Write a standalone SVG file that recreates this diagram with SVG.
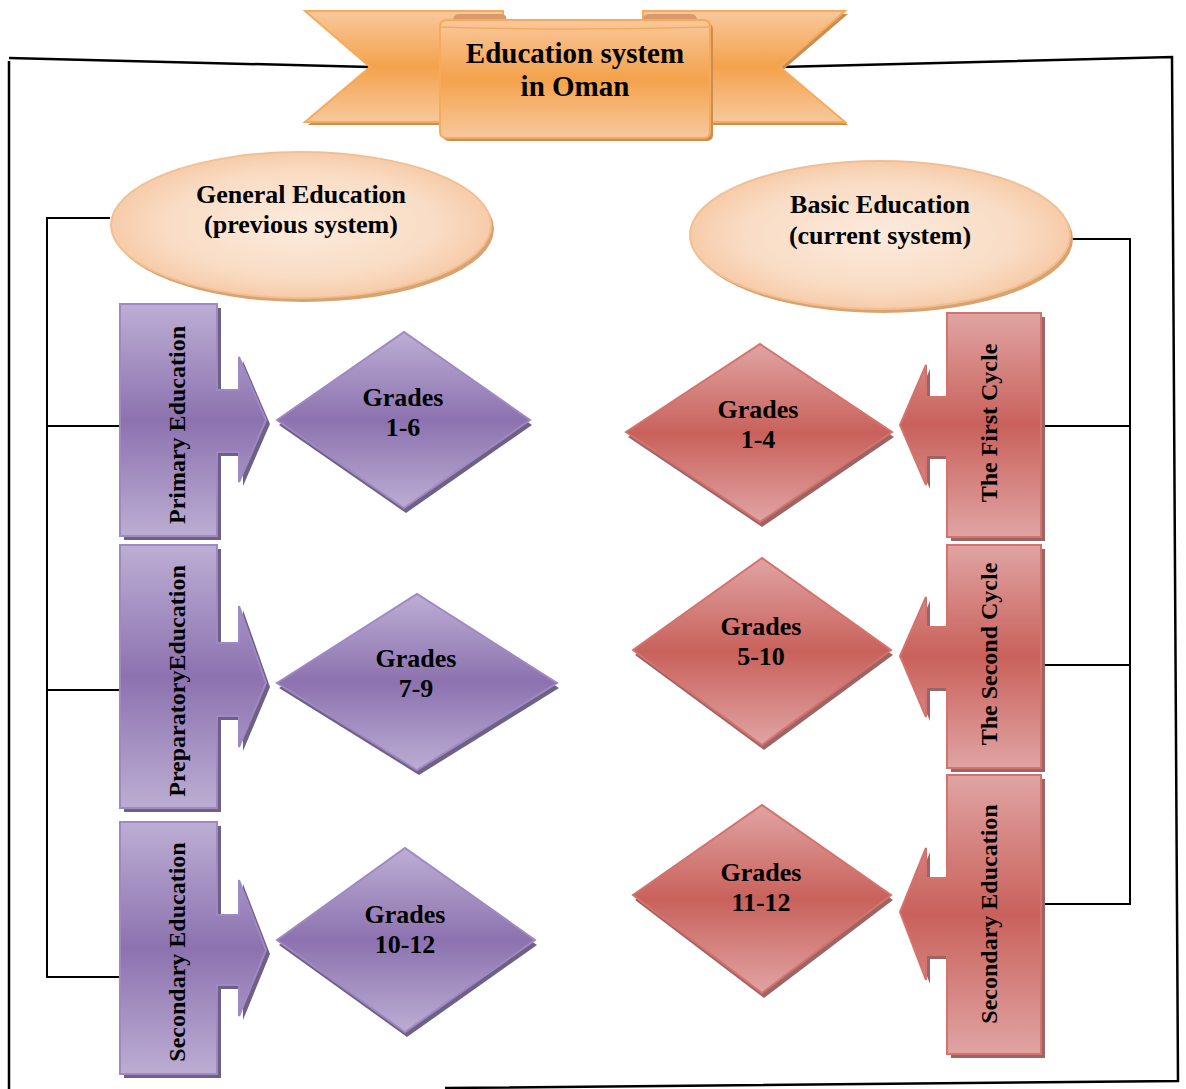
<svg xmlns="http://www.w3.org/2000/svg" width="1186" height="1089" viewBox="0 0 1186 1089">
<defs>
<linearGradient id="gOr" x1="0" y1="0" x2="0" y2="1"><stop offset="0" stop-color="#f8c89c"/><stop offset="0.5" stop-color="#f4a24c"/><stop offset="1" stop-color="#f8c89c"/></linearGradient>
<radialGradient id="gEl" cx="0.5" cy="0.5" r="0.6"><stop offset="0" stop-color="#fcebdd"/><stop offset="0.6" stop-color="#f9dcc4"/><stop offset="1" stop-color="#f5c096"/></radialGradient>
<linearGradient id="gPu" x1="0" y1="0" x2="0" y2="1"><stop offset="0" stop-color="#bdaed4"/><stop offset="0.5" stop-color="#8c72af"/><stop offset="1" stop-color="#bcadd3"/></linearGradient>
<linearGradient id="gRe" x1="0" y1="0" x2="0" y2="1"><stop offset="0" stop-color="#e0a4a3"/><stop offset="0.5" stop-color="#c9615b"/><stop offset="1" stop-color="#e0a4a3"/></linearGradient>
</defs>
<style>
.t{font-family:"Liberation Serif","Times New Roman",serif;font-weight:bold;fill:#000;text-anchor:middle}
.big{font-size:29px}.mid{font-size:26px}.rot{font-size:24px}
.or{fill:url(#gOr);stroke:#f6aa5c;stroke-width:2}
.orS{fill:#c98e52}
.el{fill:url(#gEl);stroke:#f2bf93;stroke-width:2}
.elS{fill:#d9a36f}
.pu{fill:url(#gPu);stroke:#9f89c4;stroke-width:2}
.puS{fill:#6f6183}
.re{fill:url(#gRe);stroke:#d6716c;stroke-width:2}
.reS{fill:#9c6565}
.ln{fill:none;stroke:#000;stroke-width:2}
.bd{fill:none;stroke:#000;stroke-width:2.5}
</style>

<g id="connectors">
<path class="bd" d="M9,58 L370,67"/>
<path class="bd" d="M9,61 L9,1089"/>
<path class="bd" d="M780,67 L1172,57 L1178,1081 L445,1088"/>
<path class="ln" d="M110,218 H47 V977 H120 M47,426 H120 M47,690 H120"/>
<path class="ln" d="M1070,239 H1130 V904 H1041 M1041,426 H1130 M1041,665 H1130"/>
</g>

<g id="banner">
<polygon class="orS" points="308,14 503,14 503,125 308,125 373,70"/>
<polygon class="orS" points="848,14 643,14 643,125 848,125 783,70"/>
<polygon class="or" points="305,11 503,11 503,122 305,122 370,67"/>
<polygon class="or" points="845,11 643,11 643,122 845,122 780,67"/>
<path d="M455,26 Q450,14 460,14 H500 Q508,14 506,20 V28 Z" fill="#d9996a"/>
<path d="M695,26 Q700,14 690,14 H650 Q642,14 644,20 V28 Z" fill="#d9996a"/>
<path class="orS" d="M443,30 Q443,23 450,23 H706 Q713,23 713,30 V135 Q713,141 706,141 H450 Q443,141 443,135 Z"/>
<path class="or" d="M440,27 Q440,20 447,20 H703 Q710,20 710,27 V132 Q710,138 703,138 H447 Q440,138 440,132 Z"/>
<path d="M441,27 Q575,31 709,27" fill="none" stroke="#f6aa5c" stroke-width="1.5"/>
<text class="t big" x="575" y="63">Education system</text>
<text class="t big" x="575" y="96">in Oman</text>
</g>

<g id="general">
<ellipse class="elS" cx="304" cy="229" rx="190" ry="73"/>
<ellipse class="el" cx="301" cy="225" rx="190" ry="73"/>
<text class="t mid" x="301" y="203">General Education</text>
<text class="t mid" x="301" y="233">(previous system)</text>
</g>

<g id="basic">
<ellipse class="elS" cx="883" cy="239" rx="190" ry="74"/>
<ellipse class="el" cx="880" cy="235" rx="190" ry="74"/>
<text class="t mid" x="880" y="213">Basic Education</text>
<text class="t mid" x="880" y="244">(current system)</text>
</g>

<g id="primary">
<path class="puS" transform="translate(4,4)" d="M120,304 H217 V390 H239 V357 L266,420 L239,482 V452 H217 V536 H120 Z"/>
<path class="pu" d="M120,304 H217 V390 H239 V357 L266,420 L239,482 V452 H217 V536 H120 Z"/>
<text class="t rot" transform="translate(185,425) rotate(-90)">Primary Education</text>
</g>
<g id="preparatory">
<path class="puS" transform="translate(4,4)" d="M120,545 H217 V643 H239 V606 L266,683 L239,747 V716 H217 V808 H120 Z"/>
<path class="pu" d="M120,545 H217 V643 H239 V606 L266,683 L239,747 V716 H217 V808 H120 Z"/>
<text class="t rot" transform="translate(185,681) rotate(-90)">PreparatoryEducation</text>
</g>
<g id="secondary-left">
<path class="puS" transform="translate(4,4)" d="M120,822 H217 V915 H239 V880 L266,950 L239,1016 V985 H217 V1074 H120 Z"/>
<path class="pu" d="M120,822 H217 V915 H239 V880 L266,950 L239,1016 V985 H217 V1074 H120 Z"/>
<text class="t rot" transform="translate(185,952) rotate(-90)">Secondary Education</text>
</g>

<g id="grades-1-6">
<polygon class="puS" points="279,425 406,337 532,425 406,513"/>
<polygon class="pu" points="277,420 404,332 530,420 404,508"/>
<text class="t mid" x="403" y="406">Grades</text>
<text class="t mid" x="403" y="436">1-6</text>
</g>
<g id="grades-7-9">
<polygon class="puS" points="279,688 419,599 559,688 419,775"/>
<polygon class="pu" points="277,683 417,594 557,683 417,770"/>
<text class="t mid" x="416" y="667">Grades</text>
<text class="t mid" x="416" y="697">7-9</text>
</g>
<g id="grades-10-12">
<polygon class="puS" points="279,945 407,853 537,945 407,1037"/>
<polygon class="pu" points="277,940 405,848 535,940 405,1032"/>
<text class="t mid" x="405" y="923">Grades</text>
<text class="t mid" x="405" y="953">10-12</text>
</g>

<g id="grades-1-4">
<polygon class="reS" points="628,437 762,349 894,437 762,527"/>
<polygon class="re" points="626,432 760,344 892,432 760,522"/>
<text class="t mid" x="758" y="418">Grades</text>
<text class="t mid" x="758" y="448">1-4</text>
</g>
<g id="grades-5-10">
<polygon class="reS" points="635,655 764,563 893,655 764,750"/>
<polygon class="re" points="633,650 762,558 891,650 762,745"/>
<text class="t mid" x="761" y="635">Grades</text>
<text class="t mid" x="761" y="665">5-10</text>
</g>
<g id="grades-11-12">
<polygon class="reS" points="635,900 764,810 893,900 764,998"/>
<polygon class="re" points="633,895 762,805 891,895 762,993"/>
<text class="t mid" x="761" y="881">Grades</text>
<text class="t mid" x="761" y="911">11-12</text>
</g>

<g id="first-cycle">
<path class="reS" transform="translate(4,4)" d="M1041,313 V537 H947 V455 H926 V485 L900,425 L926,365 V397 H947 V313 Z"/>
<path class="re" d="M1041,313 V537 H947 V455 H926 V485 L900,425 L926,365 V397 H947 V313 Z"/>
<text class="t rot" transform="translate(997,423) rotate(-90)">The First Cycle</text>
</g>
<g id="second-cycle">
<path class="reS" transform="translate(4,4)" d="M1041,545 V768 H947 V687 H926 V717 L900,656 L926,597 V627 H947 V545 Z"/>
<path class="re" d="M1041,545 V768 H947 V687 H926 V717 L900,656 L926,597 V627 H947 V545 Z"/>
<text class="t rot" transform="translate(997,654) rotate(-90)">The Second Cycle</text>
</g>
<g id="secondary-right">
<path class="reS" transform="translate(4,4)" d="M1041,775 V1054 H947 V955 H926 V980 L900,912 L926,848 V878 H947 V775 Z"/>
<path class="re" d="M1041,775 V1054 H947 V955 H926 V980 L900,912 L926,848 V878 H947 V775 Z"/>
<text class="t rot" transform="translate(997,914) rotate(-90)">Secondary Education</text>
</g>
</svg>
